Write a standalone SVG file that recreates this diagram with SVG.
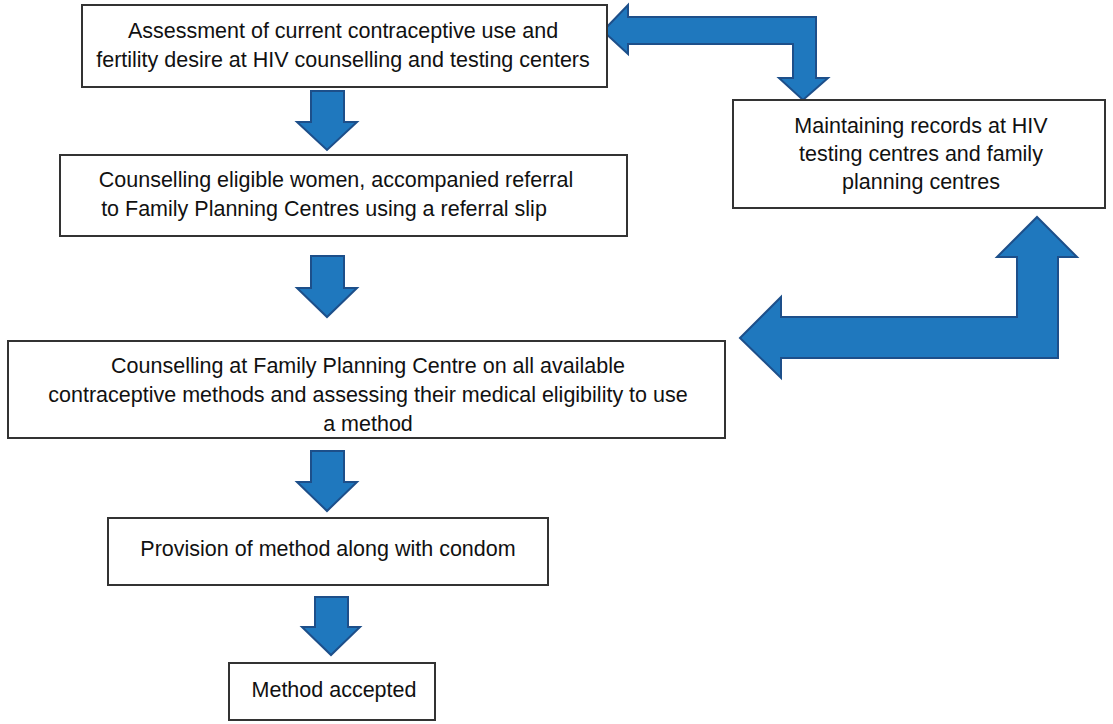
<svg xmlns="http://www.w3.org/2000/svg" width="1113" height="724" viewBox="0 0 1113 724">
<style>
rect{fill:#fff;stroke:#333;stroke-width:2}
text{font-family:"Liberation Sans",Arial,sans-serif;font-size:21.5px;fill:#111;text-anchor:middle}
.a{fill:#1f78be;stroke:#1d4f8a;stroke-width:2;stroke-linejoin:miter}
</style>
<rect width="1113" height="724" style="fill:#fff;stroke:none"/>
<g id="connectors">
<polygon class="a" points="603,31 628,5 628,17 816,17 816,78 828,78 803,100 779,78 793,78 793,44 628,44 628,54"/>
<polygon class="a" points="740,338 781,297 781,317 1017,317 1017,257 997,257 1037,217 1077,257 1058,257 1058,358 781,358 781,378"/>
<polygon class="a" points="311,91 344,91 344,122 357,122 327,150 297,122 311,122"/>
<polygon class="a" points="311,256 344,256 344,288 357,288 327,317 297,288 311,288"/>
<polygon class="a" points="311,451 344,451 344,482 357,482 327,511 297,482 311,482"/>
<polygon class="a" points="315,597 348,597 348,627 360,627 331,655 302,627 315,627"/>
</g>
<g id="n1"><rect x="82" y="5" width="525" height="82"/>
<text x="343" y="38">Assessment of current contraceptive use and</text><text x="343" y="67">fertility desire at HIV counselling and testing centers</text></g>
<g id="n2"><rect x="60" y="155" width="567" height="81"/>
<text x="336" y="187">Counselling eligible women, accompanied referral</text><text x="324" y="216">to Family Planning Centres using a referral slip</text></g>
<g id="n3"><rect x="8" y="341" width="717" height="97"/>
<text x="368" y="373">Counselling at Family Planning Centre on all available</text><text x="368" y="402">contraceptive methods and assessing their medical eligibility to use</text><text x="368" y="431">a method</text></g>
<g id="n4"><rect x="108" y="518" width="440" height="67"/>
<text x="328" y="556">Provision of method along with condom</text></g>
<g id="n5"><rect x="229" y="663" width="206" height="57"/>
<text x="334" y="697">Method accepted</text></g>
<g id="nR"><rect x="733" y="100" width="372" height="108"/>
<text x="921" y="133">Maintaining records at HIV</text><text x="921" y="161">testing centres and family</text><text x="921" y="189">planning centres</text></g>
</svg>
